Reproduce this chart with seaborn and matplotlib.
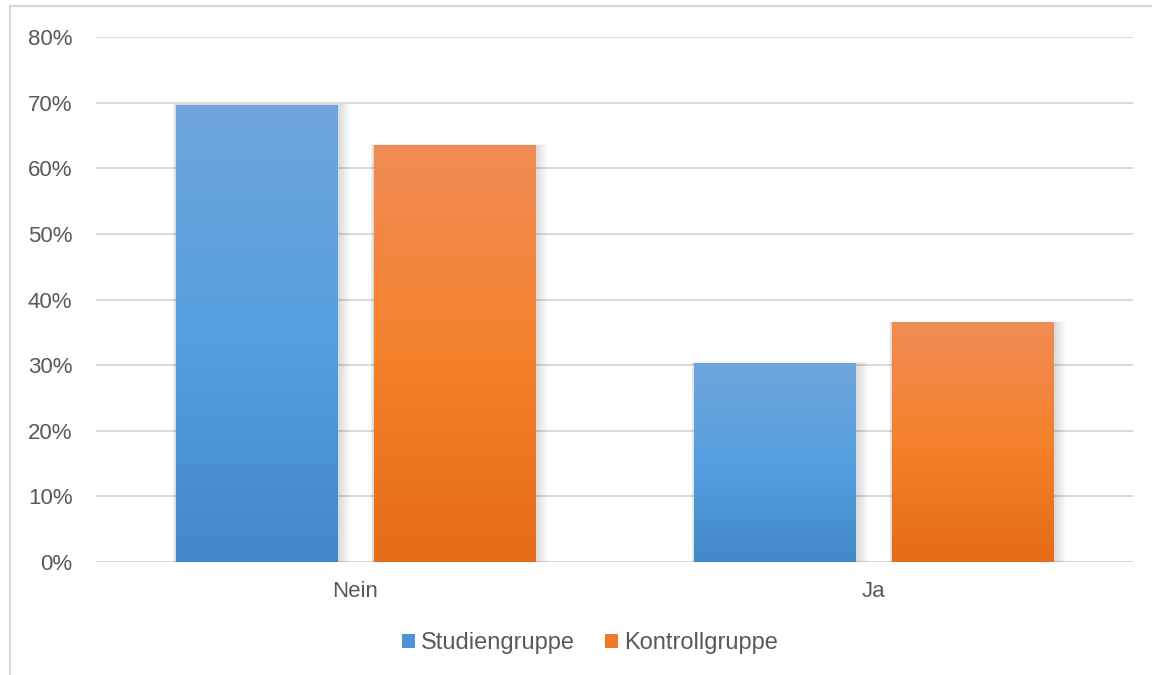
import numpy as np
import pandas as pd
import matplotlib
matplotlib.use("Agg")
import matplotlib.pyplot as plt
from matplotlib.colors import LinearSegmentedColormap
from matplotlib.patches import Rectangle, Patch
import seaborn as sns

# Data
categories = ["Nein", "Ja"]
groups = ["Studiengruppe", "Kontrollgruppe"]
studien = [69.7, 30.3]
kontroll = [63.5, 36.5]
y_ticks = [0, 10, 20, 30, 40, 50, 60, 70, 80]

df = pd.DataFrame({
    "Antwort": categories * 2,
    "Gruppe": [groups[0]] * 2 + [groups[1]] * 2,
    "Anteil": studien + kontroll,
})

sns.set_theme(style="white")
plt.rcParams["font.family"] = ["Liberation Sans", "DejaVu Sans"]
text_color = "#595959"
grid_color = "#D9D9D9"

base_colors = {"Studiengruppe": "#4F93D6", "Kontrollgruppe": "#EF7A2A"}
gradients = {
    "Studiengruppe": ["#6FA6DC", "#569FE0", "#4388C8"],
    "Kontrollgruppe": ["#F08C55", "#F5812C", "#E56B18"],
}

fig = plt.figure(figsize=(11.52, 6.75), dpi=100)
ax = fig.add_axes([96 / 1152, 1 - 562 / 675, (1133 - 96) / 1152, (562 - 37) / 675])

sns.barplot(data=df, x="Antwort", y="Anteil", hue="Gruppe", order=categories,
            hue_order=groups, palette=base_colors, width=0.762, gap=0.185,
            ax=ax, legend=False, saturation=1)

ax.set_xlim(-0.5, 1.5)
ax.set_ylim(0, 80)
ax.set_yticks(y_ticks)
ax.set_yticklabels([f"{t}%" for t in y_ticks])
ax.yaxis.grid(True, color=grid_color, linewidth=1.4)
ax.set_axisbelow(True)
for s in ax.spines.values():
    s.set_visible(False)
ax.axhline(0, color=grid_color, linewidth=2.2, zorder=1)
ax.tick_params(axis="both", length=0, labelsize=16, colors=text_color)
ax.tick_params(axis="y", pad=17)
ax.tick_params(axis="x", pad=14)
ax.set_xlabel("")
ax.set_ylabel("")

# Gradient fill and soft shadow per bar
n_cat = len(categories)
for i, patch in enumerate(ax.patches[: n_cat * len(groups)]):
    grp = groups[i // n_cat]
    x0, y0 = patch.get_x(), patch.get_y()
    w, h = patch.get_width(), patch.get_height()
    for k in range(6):
        d = 0.004 + k * 0.003
        ax.add_patch(Rectangle((x0 - d * 0.3, y0), w + d * 1.6, h + d * 8,
                               facecolor="black", edgecolor="none",
                               alpha=0.022, zorder=1.5))
    cmap = LinearSegmentedColormap.from_list(grp, gradients[grp])
    grad = np.linspace(0, 1, 256).reshape(-1, 1)
    im = ax.imshow(grad, cmap=cmap, aspect="auto", origin="upper",
                   extent=(x0, x0 + w, y0, y0 + h), zorder=2,
                   interpolation="bilinear")
    im.set_clip_path(patch)
    patch.set_facecolor("none")
    patch.set_edgecolor("none")
    patch.set_zorder(2)
ax.set_xlim(-0.5, 1.5)
ax.set_ylim(0, 80)

# Legend
handles = [Patch(facecolor=base_colors[g], edgecolor="none") for g in groups]
fig.legend(handles, groups, loc="center", bbox_to_anchor=(590 / 1152, 1 - 643 / 675),
           ncol=2, frameon=False, fontsize=17, labelcolor=text_color,
           handlelength=0.55, handleheight=0.55, handletextpad=0.25,
           columnspacing=1.3)

# Chart frame
fig.add_artist(Rectangle((10 / 1152, -0.05), 1.2, 1 - 6 / 675 + 0.05,
                         transform=fig.transFigure, facecolor="none",
                         edgecolor=grid_color, linewidth=1.6))

fig.savefig("out.png", dpi=100)
